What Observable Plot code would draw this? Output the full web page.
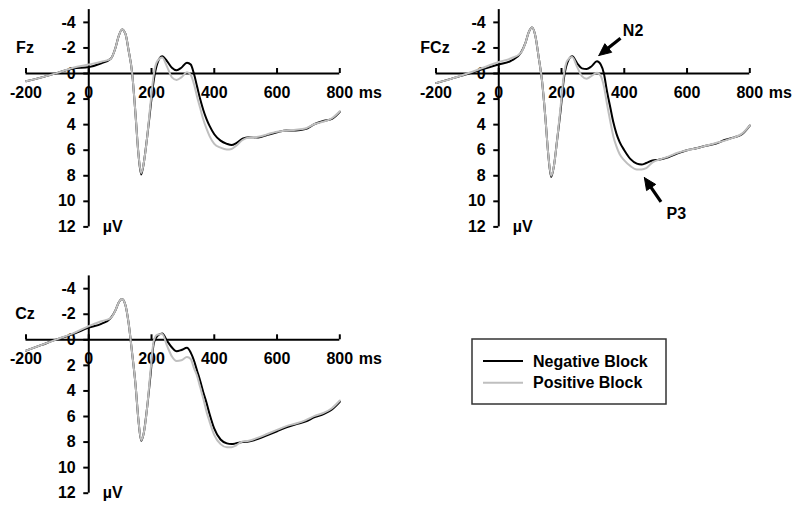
<!DOCTYPE html>
<html><head><meta charset="utf-8">
<script src="https://cdn.jsdelivr.net/npm/d3@7"></script>
<script src="https://cdn.jsdelivr.net/npm/@observablehq/plot@0.6"></script>
<style>
html,body{margin:0;padding:0;background:#fff;}
#root{position:relative;width:800px;height:507px;overflow:hidden;font-family:"Liberation Sans",Arial,sans-serif;}
.panel{position:absolute;}
</style></head><body><div id="root"></div>
<script>
// ---- data (ms, µV) ----
const times = [-200,-150,-100,-50,0,40,70,85,95,106,117,127,138,149,158,167,176,186,197,207,218,234,250,265,280,295,313,325,335,345,355,365,375,385,400,420,440,455,470,490,510,540,570,600,630,660,690,720,750,775,800];
const fzNeg = [0.6,0.3,-0.05,-0.4,-0.5,-0.8,-1.15,-2.0,-2.9,-3.45,-3.1,-1.8,-0.1,3.2,6.2,7.9,6.9,5.0,2.6,0.55,-0.75,-1.35,-0.95,-0.45,-0.25,-0.45,-0.85,-0.7,0.0,1.0,2.0,2.85,3.55,4.1,4.75,5.25,5.5,5.6,5.45,5.1,4.98,5.0,4.8,4.6,4.45,4.45,4.35,3.95,3.7,3.55,3.0];
const fzPos = [0.6,0.3,-0.05,-0.45,-0.7,-0.92,-1.15,-2.0,-2.9,-3.45,-3.1,-1.8,-0.1,3.2,6.2,7.8,6.9,5.0,2.3,0.1,-0.95,-1.25,-0.5,0.3,0.5,0.3,-0.1,0.1,0.8,1.8,2.7,3.6,4.3,4.9,5.5,5.8,5.95,5.9,5.65,5.2,5.0,4.95,4.75,4.55,4.45,4.4,4.3,3.95,3.75,3.5,2.95];
const fczNeg = [0.75,0.4,0.05,-0.35,-0.7,-1.0,-1.6,-2.4,-3.2,-3.6,-2.9,-1.3,0.6,3.6,6.4,8.1,7.2,5.2,2.9,0.5,-0.8,-1.35,-0.8,-0.4,-0.35,-0.55,-0.95,-0.7,0.0,1.4,2.6,3.8,4.7,5.35,6.0,6.7,7.05,7.12,7.0,6.8,6.75,6.55,6.25,6.0,5.85,5.65,5.5,5.2,5.0,4.75,4.07];
const fczPos = [0.75,0.4,0.0,-0.45,-0.9,-1.2,-1.6,-2.4,-3.2,-3.6,-2.9,-1.3,0.6,3.6,6.4,8.0,7.2,5.2,2.6,0.2,-1.0,-1.3,-0.5,0.2,0.4,0.2,-0.05,0.2,1.0,2.4,3.7,4.9,5.7,6.3,6.8,7.25,7.5,7.5,7.4,6.95,6.75,6.5,6.2,6.0,5.85,5.65,5.45,5.25,5.0,4.7,4.07];
const czNeg = [0.85,0.4,-0.05,-0.45,-0.95,-1.25,-1.7,-2.3,-2.9,-3.2,-2.7,-1.3,1.0,3.5,6.2,7.9,7.2,5.3,2.7,0.3,-0.3,-0.5,0.1,0.6,0.9,0.8,0.62,1.0,1.6,2.4,3.2,4.1,4.9,5.8,6.95,7.8,8.1,8.16,8.1,8.0,7.95,7.75,7.45,7.15,6.85,6.6,6.4,6.05,5.8,5.45,4.85];
const czPos = [0.85,0.4,-0.05,-0.5,-1.07,-1.45,-1.7,-2.3,-2.9,-3.2,-2.7,-1.3,1.0,3.5,6.2,7.85,7.2,5.3,2.4,0.1,-0.4,-0.45,0.5,1.3,1.65,1.6,1.35,1.5,2.2,2.8,3.7,4.6,5.6,6.4,7.45,8.16,8.4,8.4,8.25,7.95,7.9,7.65,7.35,7.05,6.75,6.55,6.3,5.95,5.7,5.35,4.75];

const xTicks = [-200,0,200,400,600,800];
const yTicks = [-4,-2,0,2,4,6,8,10,12];
const panelNames = ["Fz","FCz","Cz"];
const seriesNames = ["Negative Block","Positive Block"];
const xUnit = "ms";
const yUnit = "µV";
// annotations on FCz: [ms, µV]
const n2Label = ["N2", 428, -3.3];
const n2Arrow = [[388, -2.76],[319, -1.41]];   // tail, tip
const p3Label = ["P3", 566, 10.98];
const p3Arrow = [[517, 10.05],[464, 8.14]];

// ---- layout ----
const FONT = "'Liberation Sans', Arial, sans-serif";
const XDOM = [-200, 800], YDOM = [-5, 12];
const layouts = [
  {left:0, top:0, width:400, height:250, ml:25.5, mr:60.7, mt:9.1, mb:23.6},
  {left:400, top:0, width:400, height:250, ml:35.5, mr:50.7, mt:9.1, mb:23.6},
  {left:0, top:260, width:400, height:247, ml:25.5, mr:60.7, mt:15.4, mb:14.3}
];
const seriesData = [[fzNeg, fzPos],[fczNeg, fczPos],[czNeg, czPos]];
const root = document.getElementById("root");

function arrowMarks(L, arrow) {
  const xs = d3.scaleLinear(XDOM, [L.ml, L.width - L.mr]);
  const ys = d3.scaleLinear(YDOM, [L.mt, L.height - L.mb]);
  const [tail, tip] = arrow;
  const tx = xs(tail[0]), ty = ys(tail[1]), px = xs(tip[0]), py = ys(tip[1]);
  const len = Math.hypot(px - tx, py - ty);
  const ux = (px - tx) / len, uy = (py - ty) / len;
  const hl = 12, hw = 5.5;
  const bx = px - ux * hl, by = py - uy * hl;
  const head = [
    [px, py],
    [bx - uy * hw, by + ux * hw],
    [bx + uy * hw, by - ux * hw],
    [px, py]
  ].map(([a, b]) => ({x: xs.invert(a), y: ys.invert(b)}));
  const shaft = [{x1: tail[0], y1: tail[1], x2: xs.invert(bx + ux * 2), y2: ys.invert(by + uy * 2)}];
  return [
    Plot.link(shaft, {x1: "x1", y1: "y1", x2: "x2", y2: "y2", stroke: "#000", strokeWidth: 3.2}),
    Plot.line(head, {x: "x", y: "y", fill: "#000", stroke: "#000", strokeWidth: 1, curve: "linear"})
  ];
}

panelNames.forEach((name, p) => {
  const L = layouts[p];
  const [neg, pos] = seriesData[p];
  const negRows = times.map((t, i) => ({t, v: neg[i], s: seriesNames[0]}));
  const posRows = times.map((t, i) => ({t, v: pos[i], s: seriesNames[1]}));
  const txt = {fontSize: 16, fontWeight: "bold", fill: "#000"};
  const marks = [
    Plot.text(yTicks, {x: 0, y: d => d, text: d => String(d), textAnchor: "end", dx: -13, ...txt}),
    Plot.text(xTicks, {x: d => d, y: 0, text: d => String(d), dy: 19, ...txt}),
    Plot.text([xUnit], {x: XDOM[1], y: 0, text: d => d, textAnchor: "start", dx: 19, dy: 19, ...txt}),
    Plot.text([yUnit], {x: 0, y: YDOM[1], text: d => d, textAnchor: "start", dx: 14, dy: 0, ...txt}),
    Plot.text([name], {x: XDOM[0], y: -2, text: d => d, dx: -1, ...txt}),
    Plot.ruleY([0], {x1: XDOM[0], x2: XDOM[1], stroke: "#000", strokeWidth: 2}),
    Plot.ruleX([0], {y1: YDOM[0], y2: YDOM[1], stroke: "#000", strokeWidth: 2}),
    Plot.ruleX(xTicks, {x: d => d, y1: 0, y2: 0, insetTop: -5, stroke: "#000", strokeWidth: 2}),
    Plot.ruleY(yTicks, {y: d => d, x1: 0, x2: 0, insetLeft: -5, stroke: "#000", strokeWidth: 2}),
    Plot.line(negRows, {x: "t", y: "v", stroke: "#000", strokeWidth: 2, curve: "monotone-x"}),
    Plot.line(posRows, {x: "t", y: "v", stroke: "#bfbfbf", strokeWidth: 2, curve: "monotone-x"})
  ];
  if (name === "FCz") {
    marks.push(...arrowMarks(L, n2Arrow), ...arrowMarks(L, p3Arrow));
    marks.push(Plot.text([n2Label], {x: d => d[1], y: d => d[2], text: d => d[0], ...txt}));
    marks.push(Plot.text([p3Label], {x: d => d[1], y: d => d[2], text: d => d[0], ...txt}));
  }
  const chart = Plot.plot({
    width: L.width, height: L.height,
    marginLeft: L.ml, marginRight: L.mr, marginTop: L.mt, marginBottom: L.mb,
    x: {domain: XDOM, axis: null},
    y: {domain: YDOM, reverse: true, axis: null},
    style: {fontFamily: FONT, background: "transparent", overflow: "visible"},
    marks
  });
  const div = document.createElement("div");
  div.className = "panel";
  div.style.left = L.left + "px";
  div.style.top = L.top + "px";
  div.appendChild(chart);
  root.appendChild(div);
});

// ---- legend ----
const lg = d3.select(root).append("svg")
  .attr("width", 200).attr("height", 70)
  .style("position", "absolute").style("left", "470px").style("top", "337px");
lg.append("rect").attr("x", 2).attr("y", 2).attr("width", 194).attr("height", 65)
  .attr("fill", "#fff").attr("stroke", "#333").attr("stroke-width", 1.5);
const legendColors = ["#000", "#bfbfbf"];
seriesNames.forEach((s, i) => {
  const y = 24 + i * 21.7;
  lg.append("line").attr("x1", 13).attr("x2", 53).attr("y1", y).attr("y2", y)
    .attr("stroke", legendColors[i]).attr("stroke-width", 2);
  lg.append("text").attr("x", 63).attr("y", y).attr("dy", "0.35em")
    .attr("font-family", FONT).attr("font-size", 16).attr("font-weight", "bold").text(s);
});
</script></body></html>
